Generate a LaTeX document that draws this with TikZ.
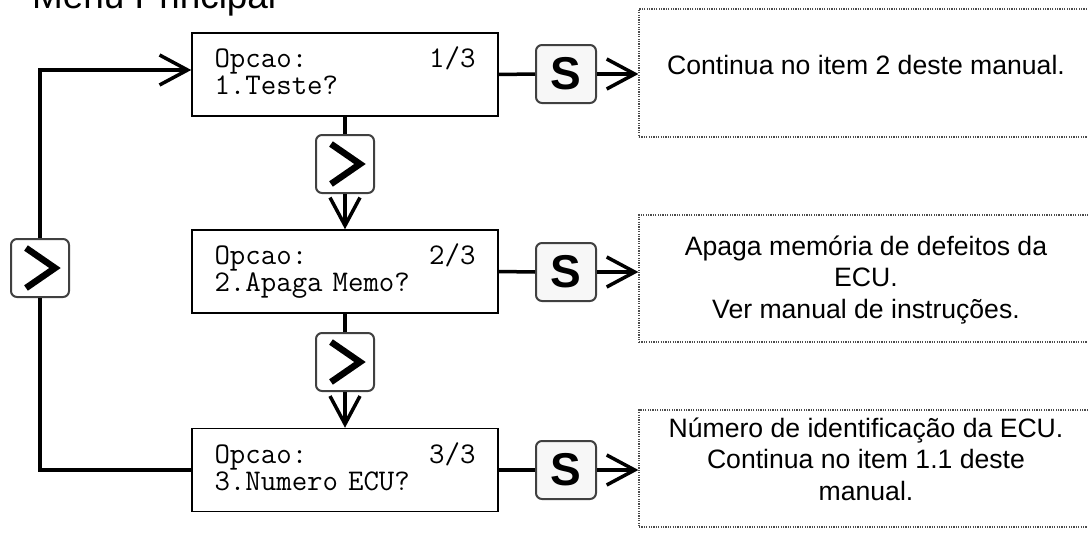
\documentclass[tikz,border=0pt]{standalone}
\usepackage{fontspec}
\setmainfont{Liberation Sans}
\usetikzlibrary{arrows.meta}
\begin{document}
\begin{tikzpicture}[x=1pt, y=-1pt,
  lcd/.style={draw=black, line width=1.5pt, minimum width=306pt, minimum height=83pt,
    text width=261pt, align=left, inner sep=0pt, text height=21pt, text depth=35pt,
    font=\ttfamily\fontsize{30}{27}\selectfont},
  skey/.style={draw=black!75, line width=2pt, rounded corners=6pt, fill=black!3,
    minimum width=60pt, minimum height=58pt, inner sep=0pt,
    font=\fontsize{46}{46}\selectfont\bfseries},
  nkey/.style={draw=black!75, line width=2pt, rounded corners=6pt, fill=white,
    minimum width=58pt, minimum height=58pt, inner sep=0pt},
  note/.style={draw=black!70, line width=1.2pt, dash pattern=on 1.2pt off 1.2pt,
    minimum width=454pt, inner sep=0pt},
  notetext/.style={align=center, inner sep=0pt, anchor=base,
    font=\fontsize{26.6}{31.5}\selectfont},
  link/.style={line width=3.5pt},
  arrow/.style={link, -{Straight Barb[length=28pt, width=30pt]}},
  chev/.style={line width=6.5pt}]
\useasboundingbox (0,0) rectangle (1088,538);
\clip (0,0) rectangle (1088,538);

\node [font=\fontsize{36.9}{40}\selectfont, anchor=base west, inner sep=0pt] (title) at (32,9) {Menu Principal};

\node [lcd] (opt1) at (345,74.5) {Opcao:\hfill 1/3\\1.Teste?};
\node [lcd] (opt2) at (345,271.5) {Opcao:\hfill 2/3\\2.Apaga Memo?};
\node [lcd] (opt3) at (345,470) {Opcao:\hfill 3/3\\3.Numero ECU?};

\node [skey] (sel1) at (566,74) {S};
\node [skey] (sel2) at (566,272) {S};
\node [skey] (sel3) at (566,470) {S};

\node [nkey] (next1) at (345,164) {};
\node [nkey] (next2) at (345,362) {};
\node [nkey] (nextL) at (40,268) {};

\node [note, minimum height=128pt] (noteA) at (866,73) {};
\node [note, minimum height=127pt] (noteB) at (866,278.5) {};
\node [note, minimum height=117pt] (noteC) at (866,468.5) {};
\node [notetext] (textA) at (866,74) {Continua no item 2 deste manual.};
\node [notetext] (textB) at (866,318) {Apaga memória de defeitos da\\ECU.\\Ver manual de instruções.};
\node [notetext] (textC) at (866,500) {Número de identificação da ECU.\\Continua no item 1.1 deste\\manual.};

\draw [link] (opt1.east) -- (sel1.west);
\draw [link] (opt2.east) -- (sel2.west);
\draw [link] (opt3.east) -- (sel3.west);
\draw [arrow] (sel1.east) -- (sel1.east -| noteA.west);
\draw [arrow] (sel2.east) -- (sel2.east -| noteB.west);
\draw [arrow] (sel3.east) -- (sel3.east -| noteC.west);

\draw [link] (opt1.south) -- (next1);
\draw [arrow] (next1) -- (opt2.north);
\draw [link] (opt2.south) -- (next2);
\draw [arrow] (next2) -- (opt3.north);
\draw [link] (opt3.west) -| (nextL);
\draw [arrow] (nextL) |- ([yshift=4.5pt]opt1.west);

\draw [chev] (next1.center) ++(-14,-20) -- ++(29,20) -- ++(-29,20);
\draw [chev] (next2.center) ++(-14,-20) -- ++(29,20) -- ++(-29,20);
\draw [chev] (nextL.center) ++(-14,-20) -- ++(29,20) -- ++(-29,20);
\end{tikzpicture}
\end{document}
